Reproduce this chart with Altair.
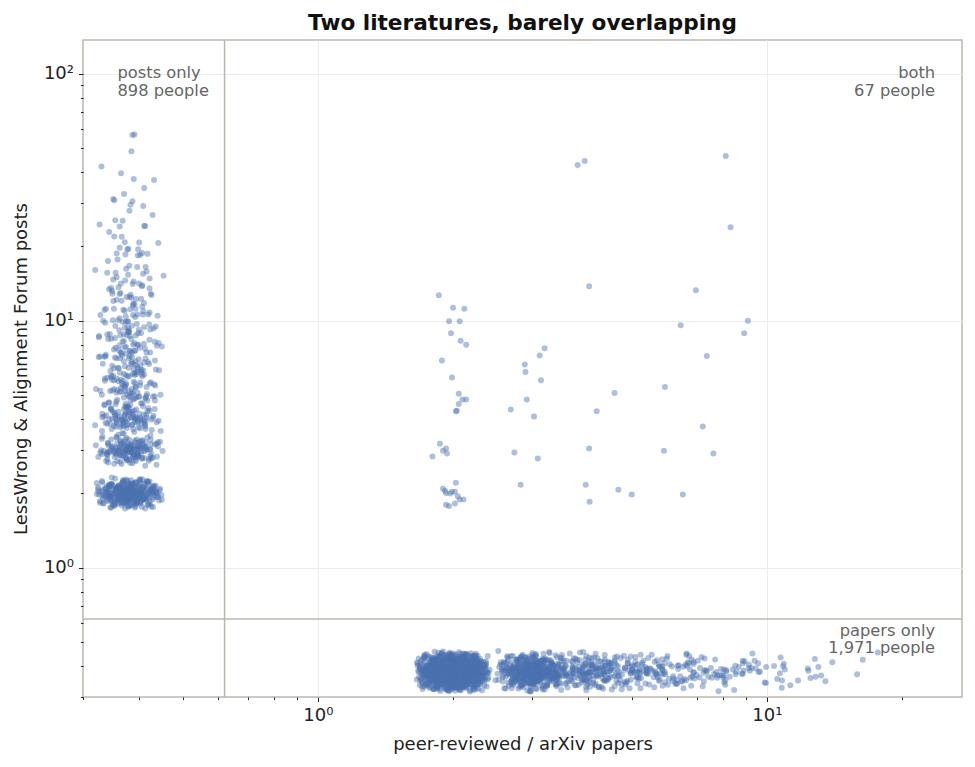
import altair as alt
import pandas as pd

# ---- data ----
# people with posts only: post count -> number of people
posts_only_values = [2, 3, 4, 5, 6, 7, 8, 9, 10, 11, 12, 13, 14, 15, 16, 17, 18, 19, 20,
                     21, 22, 23, 24, 25, 26, 28, 29, 31, 32, 34, 35, 37, 40, 43, 47, 52, 57]
posts_only_counts = [332, 160, 100, 60, 45, 35, 28, 22, 18, 14, 12, 10, 8, 6, 5, 5, 4, 3, 3,
                     3, 2, 2, 2, 3, 1, 1, 1, 2, 2, 1, 2, 1, 1, 1, 1, 1, 1]

# people with papers only: paper count -> number of people
papers_only_values = [2, 3, 4, 5, 6, 7, 8, 9, 10, 11, 12, 13, 14, 15, 16, 17]
papers_only_counts = [1154, 430, 160, 80, 50, 32, 22, 14, 10, 6, 5, 3, 2, 1, 1, 1]

# people with both (positions as drawn)
both_papers = [3.79, 3.93, 8.1, 8.3, 4.02, 6.95, 6.43, 9.07, 8.9, 7.35, 5.93, 7.2, 7.6, 5.9,
               6.5, 5.0, 4.67, 4.58, 4.18, 4.02, 3.95, 4.03, 3.2, 3.12, 2.89, 2.9, 3.14, 2.92,
               2.69, 3.03, 3.09, 2.74, 2.83,
               1.86, 2.0, 2.12, 1.96, 2.07, 1.98, 2.08, 2.14, 1.89, 1.99, 2.06, 2.10, 2.14,
               2.06, 2.03, 2.04, 1.87, 1.93, 1.9, 1.94, 1.8, 2.03, 1.9, 1.92, 1.93, 1.99,
               2.02, 2.07, 2.11, 1.96, 2.02, 1.93, 1.97, 2.05]
both_posts = [42.7, 44.4, 46.5, 23.9, 13.8, 13.3, 9.6, 10.0, 8.9, 7.2, 5.4, 3.73, 2.9, 2.98,
              1.98, 1.98, 2.07, 5.1, 4.3, 3.04, 2.17, 1.85, 7.75, 7.23, 6.66, 6.2, 5.74, 4.8,
              4.37, 4.1, 2.77, 2.93, 2.17,
              12.7, 11.3, 11.2, 9.95, 9.95, 8.9, 8.3, 8.0, 6.9, 5.9, 5.07, 4.8, 4.8,
              4.6, 4.3, 4.32, 3.18, 3.04, 2.98, 2.9, 2.82, 2.21, 2.09, 2.05, 2.01, 2.03,
              2.03, 1.89, 1.89, 1.78, 1.82, 1.8, 2.0, 1.95]

group_labels = ["posts only\n898 people", "both\n67 people", "papers only\n1,971 people"]

# ---- jitter (deterministic, display only) ----
def halton(i, b):
    f, r = 1.0, 0.0
    while i > 0:
        f /= b
        r += f * (i % b)
        i //= b
    return r

def tri(i, b1, b2):
    return halton(i, b1) + halton(i, b2) - 1.0

rows = []
idx = 17
for v, c in zip(posts_only_values, posts_only_counts):
    for _ in range(c):
        idx += 1
        jx = tri(idx, 2, 3) * 0.08
        jy = tri(idx, 5, 7) * 0.068
        rows.append({"x": 0.38 * 10 ** jx, "y": v * 10 ** jy})
idx = 23
for v, c in zip(papers_only_values, papers_only_counts):
    for _ in range(c):
        idx += 1
        jx = tri(idx, 2, 3) * 0.085
        jy = tri(idx, 5, 7) * 0.085
        rows.append({"x": v * 10 ** jx, "y": 0.38 * 10 ** jy})
for a, b in zip(both_papers, both_posts):
    rows.append({"x": a, "y": b})
df = pd.DataFrame(rows)

MAJOR = "datum.value == 1 || datum.value == 10 || datum.value == 100"
LABEL = "datum.value == 1 ? '10⁰' : datum.value == 10 ? '10¹' : datum.value == 100 ? '10²' : ''"

x_vals = [0.3, 0.4, 0.5, 0.6, 0.7, 0.8, 0.9, 1, 2, 3, 4, 5, 6, 7, 8, 9, 10, 20]
y_vals = [0.3, 0.4, 0.5, 0.6, 0.7, 0.8, 0.9, 1, 2, 3, 4, 5, 6, 7, 8, 9,
          10, 20, 30, 40, 50, 60, 70, 80, 90, 100]

def make_axis(title, vals, pad, lpad):
    return alt.Axis(
        title=title, values=vals, labelExpr=LABEL, labelOverlap=False, labelFlush=False,
        domain=False, ticks=True, tickColor="#222222", tickWidth=1,
        tickSize={"condition": {"test": MAJOR, "value": 4.5}, "value": 2.5},
        grid=True, gridColor="#ececec", gridWidth=1,
        gridOpacity={"condition": {"test": MAJOR, "value": 1}, "value": 0},
        labelFont="DejaVu Sans", labelFontSize=18, labelColor="#222222", labelPadding=lpad,
        titleFont="DejaVu Sans", titleFontSize=18, titleFontWeight="normal",
        titleColor="#222222", titlePadding=pad,
    )

xs = alt.Scale(type="log", domain=[0.3, 27.2], nice=False)
ys = alt.Scale(type="log", domain=[0.3, 137], nice=False)

points = alt.Chart(df).mark_circle(size=36, opacity=0.45, color="#4C72B0").encode(
    x=alt.X("x:Q", scale=xs, axis=make_axis("peer-reviewed / arXiv papers", x_vals, 11, 5)),
    y=alt.Y("y:Q", scale=ys, axis=make_axis("LessWrong & Alignment Forum posts", y_vals, 13, 5)),
)

vline = alt.Chart(pd.DataFrame({"x": [0.62]})).mark_rule(
    color="#bcb8ae", strokeWidth=1.5).encode(x=alt.X("x:Q", scale=xs))
hline = alt.Chart(pd.DataFrame({"y": [0.62]})).mark_rule(
    color="#bcb8ae", strokeWidth=1.5).encode(y=alt.Y("y:Q", scale=ys))

lab_left = pd.DataFrame({"x": [0.358], "y": [108.1], "t": [group_labels[0]]})
lab_right = pd.DataFrame({"x": [23.7, 23.7], "y": [108.1, 0.598],
                          "t": [group_labels[1], group_labels[2]]})
txt_kw = dict(font="DejaVu Sans", fontSize=16.3, color="#666666", baseline="top",
              lineBreak="\n", lineHeight=17.5)
tl = alt.Chart(lab_left).mark_text(align="left", **txt_kw).encode(
    x=alt.X("x:Q", scale=xs), y=alt.Y("y:Q", scale=ys), text="t:N")
tr = alt.Chart(lab_right).mark_text(align="right", **txt_kw).encode(
    x=alt.X("x:Q", scale=xs), y=alt.Y("y:Q", scale=ys), text="t:N")

chart = alt.layer(vline, hline, points, tl, tr).properties(
    width=879, height=657,
    title=alt.TitleParams("Two literatures, barely overlapping", font="DejaVu Sans",
                          fontSize=21.6, fontWeight="bold", color="#111111",
                          anchor="middle", offset=5),
    autosize=alt.AutoSizeParams(type="none"),
    padding={"left": 75, "top": 32, "right": 5, "bottom": 60},
).configure_view(stroke="#bcb8ae", strokeWidth=1.5)

chart.save("out.html", embed_options={"renderer": "svg", "actions": False})
